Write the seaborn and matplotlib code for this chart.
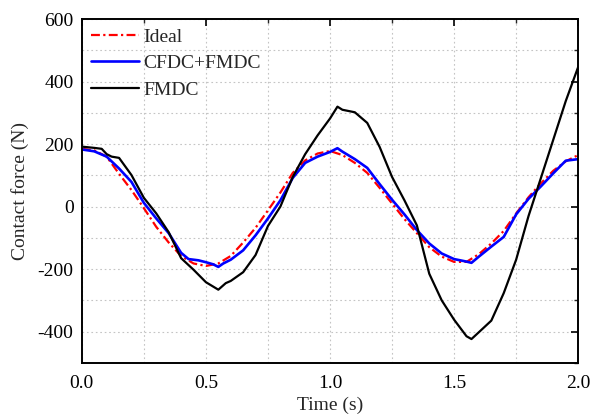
import numpy as np
import pandas as pd
import matplotlib
matplotlib.use("Agg")
import matplotlib.pyplot as plt
from matplotlib.ticker import MultipleLocator
import seaborn as sns

# ---- data ----
t_ideal = [0.00, 0.05, 0.10, 0.15, 0.20, 0.25, 0.30, 0.35, 0.40, 0.45, 0.50, 0.55,
           0.60, 0.65, 0.70, 0.75, 0.80, 0.85, 0.90, 0.95, 1.00, 1.05, 1.10, 1.15,
           1.20, 1.25, 1.30, 1.35, 1.40, 1.45, 1.50, 1.55, 1.60, 1.65, 1.70, 1.75,
           1.80, 1.85, 1.90, 1.95, 2.00]
f_ideal = [185, 180, 160, 105, 53, -5, -65, -115, -158, -182, -190, -182,
           -158, -115, -68, -12, 45, 108, 148, 170, 178, 165, 140, 108,
           60, 10, -40, -85, -130, -160, -177, -177, -152, -118, -78, -22,
           30, 75, 115, 145, 165]

t_cfdc = [0.00, 0.05, 0.10, 0.15, 0.20, 0.25, 0.30, 0.35, 0.40, 0.43, 0.47, 0.50,
          0.53, 0.55, 0.57, 0.60, 0.65, 0.70, 0.75, 0.80, 0.85, 0.90, 0.95, 1.00,
          1.03, 1.05, 1.10, 1.15, 1.20, 1.25, 1.30, 1.35, 1.40, 1.45, 1.50, 1.55,
          1.57, 1.60, 1.65, 1.70, 1.75, 1.80, 1.85, 1.90, 1.95, 2.00]
f_cfdc = [183, 177, 160, 122, 79, 12, -38, -85, -148, -168, -172, -178,
          -185, -193, -182, -170, -140, -92, -38, 20, 92, 140, 160, 175,
          187, 176, 152, 124, 72, 22, -25, -75, -118, -150, -168, -176,
          -180, -160, -128, -97, -25, 25, 65, 107, 147, 152]

t_fmdc = [0.00, 0.05, 0.08, 0.10, 0.12, 0.15, 0.20, 0.25, 0.30, 0.35, 0.40, 0.45,
          0.50, 0.55, 0.58, 0.60, 0.65, 0.70, 0.75, 0.80, 0.85, 0.90, 0.95, 1.00,
          1.03, 1.05, 1.10, 1.15, 1.20, 1.25, 1.30, 1.35, 1.40, 1.45, 1.50, 1.55,
          1.57, 1.60, 1.65, 1.70, 1.75, 1.80, 1.85, 1.90, 1.95, 2.00]
f_fmdc = [192, 188, 185, 168, 160, 156, 101, 28, -22, -82, -165, -202,
          -242, -266, -245, -238, -210, -155, -62, 0, 95, 168, 228, 282,
          320, 310, 302, 268, 191, 95, 20, -60, -215, -300, -362, -415,
          -424, -402, -365, -277, -170, -30, 92, 215, 338, 447]

series_names = ["Ideal", "CFDC+FMDC", "FMDC"]
x_ticks = [0.0, 0.5, 1.0, 1.5, 2.0]
y_ticks = [-400, -200, 0, 200, 400, 600]

sns.set_style("white")
plt.rcParams["font.family"] = ["Liberation Serif", "DejaVu Serif"]

fig = plt.figure(figsize=(5.93, 4.17), dpi=100)
ax = fig.add_axes([0.138, 0.130, 0.837, 0.824])

sns.lineplot(x=t_ideal, y=f_ideal, ax=ax, color="#ff0000", lw=1.6,
             linestyle=(0, (4.0, 1.5, 1.0, 1.5)), label=series_names[0])
sns.lineplot(x=t_cfdc, y=f_cfdc, ax=ax, color="#0000ff", lw=1.9,
             label=series_names[1])
sns.lineplot(x=t_fmdc, y=f_fmdc, ax=ax, color="black", lw=1.6,
             label=series_names[2])

ax.set_xlim(0, 2.0)
ax.set_ylim(-500, 600)
ax.set_xticks(x_ticks)
ax.set_xticklabels([f"{v:.1f}" for v in x_ticks])
ax.set_yticks(y_ticks)
ax.set_yticklabels([str(v) for v in y_ticks])
ax.xaxis.set_minor_locator(MultipleLocator(0.25))
ax.yaxis.set_minor_locator(MultipleLocator(100))

ax.grid(True, which="both", color="#c4c4c4", linestyle=(0, (1.5, 2.5)), lw=0.8)
ax.tick_params(which="major", direction="in", length=5, width=1.2,
               top=True, right=True, labelsize=14, colors="black")
ax.tick_params(axis="x", which="major", pad=9)
ax.tick_params(axis="y", which="major", pad=6)
ax.tick_params(which="minor", direction="in", length=3, width=1.0,
               top=True, right=True)
for sp in ax.spines.values():
    sp.set_linewidth(1.4)
    sp.set_color("black")

ax.set_xlabel("Time (s)", fontsize=14, labelpad=3)
ax.set_ylabel("Contact force (N)", fontsize=14, labelpad=6)

leg = ax.legend(loc="upper left", frameon=False, fontsize=14,
                handlelength=2.5, handletextpad=0.2, labelspacing=0.47,
                borderaxespad=0.15, borderpad=0.3)

fig.savefig("out.png", dpi=100)
